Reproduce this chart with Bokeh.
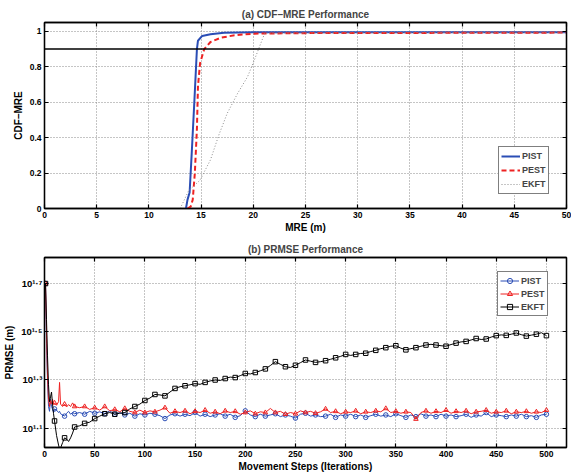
from bokeh.plotting import figure
from bokeh.models import (Range1d, FixedTicker, LinearAxis, LogAxis, Span, Legend,
                          LegendItem)
from bokeh.layouts import column
from bokeh.embed import file_html
from bokeh.resources import INLINE

FONT = "Liberation Sans"
BLUE = "#2a4db5"
RED = "#ee2222"
GRAY = "#8c8c8c"

# ---------------- (a) CDF-MRE data ----------------
pist_cdf_x = [13.55, 13.7, 13.9, 14.1, 14.35, 14.6, 14.7, 15.1, 15.9, 17.2, 20.0, 50.0]
pist_cdf_y = [0.0, 0.05, 0.09, 0.31, 0.6, 0.9, 0.947, 0.974, 0.984, 0.992, 0.995, 0.995]
pest_cdf_x = [13.7, 14.0, 14.2, 14.4, 14.6, 14.7, 14.9, 15.3, 15.9, 16.9, 18.2, 20.1, 25.0, 50.0]
pest_cdf_y = [0.0, 0.01, 0.05, 0.2, 0.45, 0.69, 0.82, 0.9, 0.94, 0.964, 0.978, 0.987, 0.99, 0.993]
ekft_cdf_x = [13.0, 13.4, 13.8, 14.9, 15.9, 16.7, 17.5, 18.5, 19.45, 20.1, 20.7, 21.1, 50.0]
ekft_cdf_y = [0.0, 0.05, 0.1, 0.16, 0.275, 0.415, 0.537, 0.65, 0.744, 0.838, 0.93, 0.99, 0.995]
threshold = 0.9
cdf_xticks = [0, 5, 10, 15, 20, 25, 30, 35, 40, 45, 50]
cdf_yticks = [0, 0.2, 0.4, 0.6, 0.8, 1]
cdf_ylabels = ["0", "0.2", "0.4", "0.6", "0.8", "1"]

# ---------------- (b) PRMSE data (log10 of metres) ----------------
steps = [1, 2, 3, 4, 5, 6, 7, 8, 9, 10, 12, 14, 15, 16, 18, 20, 22, 24, 26, 28, 30,
         35, 40, 45, 50, 55, 60, 65, 70, 75, 80,
         85, 90, 95, 100, 105, 110, 115, 120, 125, 130,
         135, 140, 145, 150, 155, 160, 165, 170, 175, 180,
         185, 190, 195, 200, 205, 210, 215, 220, 225, 230,
         235, 240, 245, 250, 255, 260, 265, 270, 275, 280,
         285, 290, 295, 300, 305, 310, 315, 320, 325, 330,
         335, 340, 345, 350, 355, 360, 365, 370, 375, 380,
         385, 390, 395, 400, 405, 410, 415, 420, 425, 430,
         435, 440, 445, 450, 455, 460, 465, 470, 475, 480,
         485, 490, 495, 500]
pist_log = [1.70, 1.45, 1.30, 1.19, 1.17, 1.22, 1.19, 1.18, 1.165, 1.18, 1.175, 1.165, 1.17, 1.16, 1.155, 1.15, 1.162, 1.17, 1.158, 1.165, 1.16,
            1.165, 1.158, 1.17, 1.162, 1.168, 1.16, 1.172, 1.158, 1.165, 1.155,
            1.162, 1.15, 1.16, 1.155, 1.162, 1.158, 1.152, 1.14, 1.155, 1.16,
            1.15, 1.158, 1.152, 1.165, 1.15, 1.158, 1.148, 1.155, 1.16, 1.15,
            1.158, 1.145, 1.152, 1.172, 1.155, 1.148, 1.158, 1.15, 1.155, 1.16,
            1.148, 1.155, 1.15, 1.142, 1.158, 1.162, 1.15, 1.155, 1.148, 1.15,
            1.158, 1.145, 1.155, 1.15, 1.158, 1.148, 1.155, 1.145, 1.152, 1.158,
            1.15, 1.155, 1.148, 1.16, 1.152, 1.145, 1.155, 1.148, 1.16, 1.15,
            1.155, 1.148, 1.158, 1.15, 1.155, 1.148, 1.152, 1.158, 1.145, 1.155,
            1.15, 1.165, 1.148, 1.155, 1.152, 1.148, 1.155, 1.15, 1.158, 1.148,
            1.152, 1.145, 1.155, 1.158]
pest_log = [1.70, 1.50, 1.32, 1.22, 1.19, 1.215, 1.20, 1.22, 1.20, 1.205, 1.195, 1.21, 1.29, 1.20, 1.19, 1.20, 1.188, 1.198, 1.19, 1.205, 1.19,
            1.185, 1.19, 1.178, 1.185, 1.175, 1.19, 1.172, 1.178, 1.168, 1.182,
            1.17, 1.165, 1.175, 1.165, 1.172, 1.168, 1.175, 1.185, 1.162, 1.17,
            1.165, 1.172, 1.16, 1.17, 1.165, 1.175, 1.162, 1.168, 1.16, 1.172,
            1.165, 1.17, 1.158, 1.165, 1.172, 1.16, 1.168, 1.165, 1.182, 1.165,
            1.17, 1.158, 1.165, 1.16, 1.172, 1.165, 1.17, 1.162, 1.168, 1.18,
            1.165, 1.17, 1.16, 1.168, 1.165, 1.172, 1.16, 1.168, 1.165, 1.172,
            1.168, 1.182, 1.165, 1.17, 1.162, 1.168, 1.165, 1.138, 1.165, 1.172,
            1.162, 1.17, 1.165, 1.175, 1.162, 1.17, 1.165, 1.172, 1.16, 1.168,
            1.17, 1.175, 1.162, 1.168, 1.165, 1.172, 1.16, 1.168, 1.165, 1.17,
            1.162, 1.168, 1.165, 1.175]
ekft_log = [1.70, 1.55, 1.40, 1.28, 1.21, 1.23, 1.25, 1.20, 1.16, 1.13, 1.07, 1.03, 1.015, 1.018, 1.04, 1.06, 1.055, 1.045, 1.06, 1.08, 1.105,
            1.11, 1.12, 1.125, 1.14, 1.15, 1.16, 1.165, 1.158, 1.162, 1.165,
            1.18, 1.19, 1.2, 1.215, 1.225, 1.24, 1.238, 1.234, 1.25, 1.265,
            1.272, 1.276, 1.28, 1.285, 1.282, 1.29, 1.296, 1.30, 1.298, 1.306,
            1.312, 1.31, 1.318, 1.327, 1.325, 1.331, 1.338, 1.346, 1.36, 1.376,
            1.365, 1.355, 1.352, 1.361, 1.372, 1.383, 1.378, 1.373, 1.376, 1.38,
            1.386, 1.392, 1.398, 1.406, 1.402, 1.406, 1.41, 1.411, 1.418, 1.423,
            1.43, 1.434, 1.44, 1.442, 1.432, 1.425, 1.43, 1.434, 1.44, 1.445,
            1.448, 1.445, 1.442, 1.44, 1.447, 1.453, 1.458, 1.46, 1.466, 1.472,
            1.468, 1.47, 1.478, 1.484, 1.487, 1.485, 1.49, 1.495, 1.488, 1.482,
            1.486, 1.49, 1.496, 1.484]
prmse_xticks = [0, 50, 100, 150, 200, 250, 300, 350, 400, 450, 500]
prmse_ytick_exps = [1.1, 1.3, 1.5, 1.7]
prmse_ytick_labels = ["10\u00b9\u00b7\u00b9", "10\u00b9\u00b7\u00b3", "10\u00b9\u00b7\u2075", "10\u00b9\u00b7\u2077"]


def style_axis(ax):
    ax.major_tick_in = 4
    ax.major_tick_out = 0
    ax.minor_tick_line_color = None
    ax.axis_line_color = "black"
    ax.axis_line_width = 1.3
    ax.major_tick_line_color = "black"
    ax.major_tick_line_width = 1.2
    ax.major_label_text_font = FONT
    ax.major_label_text_font_style = "bold"
    ax.major_label_text_font_size = "8.5px"
    ax.major_label_text_color = "black"
    ax.axis_label_text_font = FONT
    ax.axis_label_text_font_style = "bold"
    ax.axis_label_text_font_size = "10px"
    ax.axis_label_text_color = "black"


def mute_axis(ax):
    style_axis(ax)
    ax.major_label_text_color = None
    ax.major_label_text_font_size = "1px"
    ax.major_label_standoff = 0
    ax.axis_label = None


def style_fig(p):
    for g in (p.xgrid[0], p.ygrid[0]):
        g.grid_line_color = "#8a8a8a"
        g.grid_line_dash = "1 2"
        g.grid_line_width = 1
    p.outline_line_color = "black"
    p.outline_line_width = 1.3
    p.title.text_font = FONT
    p.title.text_font_style = "bold"
    p.title.text_font_size = "10px"
    p.title.align = "center"


def make_legend(items, loc, lh):
    return Legend(items=items, location=loc, margin=0, padding=2, spacing=0,
                  label_height=lh, glyph_height=lh, glyph_width=19, label_standoff=2,
                  label_text_font=FONT, label_text_font_style="bold", label_text_font_size="9px",
                  border_line_color="black", border_line_width=1.2,
                  background_fill_color="white", background_fill_alpha=1)


# ---------------- figure (a) ----------------
p1 = figure(width=571, height=236, x_range=Range1d(0, 50), y_range=Range1d(0, 1.05),
            output_backend="svg", toolbar_location=None,
            title="(a) CDF\u2013MRE Performance",
            min_border_left=44, min_border_right=5, min_border_top=22, min_border_bottom=28)
style_fig(p1)
bx1 = p1.below[0]
ly1 = p1.left[0]
for ax in (bx1, ly1):
    style_axis(ax)
bx1.ticker = FixedTicker(ticks=cdf_xticks)
ly1.ticker = FixedTicker(ticks=cdf_yticks)
ly1.major_label_overrides = {t: s for t, s in zip(cdf_yticks, cdf_ylabels)}
bx1.axis_label = "MRE (m)"
ly1.axis_label = "CDF\u2013MRE"
bx1.major_label_standoff = 3
bx1.axis_label_standoff = 1
ly1.major_label_standoff = 3
ly1.axis_label_standoff = 3
ax_r1 = LinearAxis(ticker=FixedTicker(ticks=cdf_yticks))
ax_t1 = LinearAxis(ticker=FixedTicker(ticks=cdf_xticks))
mute_axis(ax_r1)
mute_axis(ax_t1)
p1.add_layout(ax_r1, "right")
p1.add_layout(ax_t1, "above")
p1.title.standoff = 5

p1.add_layout(Span(location=threshold, dimension="width", line_color="black", line_width=1.5))
r_a1 = p1.line(pist_cdf_x, pist_cdf_y, line_color=BLUE, line_width=2)
r_a2 = p1.line(pest_cdf_x, pest_cdf_y, line_color=RED, line_width=2, line_dash="5 3")
r_a3 = p1.line(ekft_cdf_x, ekft_cdf_y, line_color=GRAY, line_width=1, line_dash="1 2")

leg1 = make_legend([LegendItem(label="PIST", renderers=[r_a1]),
                    LegendItem(label="PEST", renderers=[r_a2]),
                    LegendItem(label="EKFT", renderers=[r_a3])], (454, 14), 14)
p1.add_layout(leg1)

# ---------------- figure (b) ----------------
y_lo, y_hi = 10 ** 1.02, 10 ** 1.808
p2 = figure(width=571, height=238, x_range=Range1d(0, 520), y_range=Range1d(y_lo, y_hi),
            y_axis_type="log", output_backend="svg", toolbar_location=None,
            title="(b) PRMSE Performance",
            min_border_left=44, min_border_right=5, min_border_top=21, min_border_bottom=27)
style_fig(p2)
bx2 = p2.below[0]
ly2 = p2.left[0]
for ax in (bx2, ly2):
    style_axis(ax)
yt = [10 ** e for e in prmse_ytick_exps]
bx2.ticker = FixedTicker(ticks=prmse_xticks)
ly2.ticker = FixedTicker(ticks=yt)
ly2.major_label_overrides = {t: s for t, s in zip(yt, prmse_ytick_labels)}
ly2.major_label_text_font_size = "9.5px"
bx2.axis_label = "Movement Steps (Iterations)"
ly2.axis_label = "PRMSE (m)"
bx2.major_label_standoff = 3
bx2.axis_label_standoff = 1
ly2.major_label_standoff = 2
ly2.axis_label_standoff = 3
ax_r2 = LogAxis(ticker=FixedTicker(ticks=yt))
ax_t2 = LinearAxis(ticker=FixedTicker(ticks=prmse_xticks))
mute_axis(ax_r2)
mute_axis(ax_t2)
p2.add_layout(ax_r2, "right")
p2.add_layout(ax_t2, "above")
p2.title.standoff = 5

pist_v = [10 ** v for v in pist_log]
pest_v = [10 ** v for v in pest_log]
ekft_v = [10 ** v for v in ekft_log]
mk = [i for i, s in enumerate(steps) if s == 1 or s % 10 == 0]

series = [("PIST", pist_v, BLUE, "circle"), ("PEST", pest_v, RED, "triangle"),
          ("EKFT", ekft_v, "black", "square")]
items2 = []
for name, vals, col, marker in series:
    rl = p2.line(steps, vals, line_color=col, line_width=1)
    rs = p2.scatter([steps[i] for i in mk], [vals[i] for i in mk], marker=marker, size=4.5,
                    line_color=col, fill_color=None, line_width=1)
    items2.append(LegendItem(label=name, renderers=[rl, rs]))

leg2 = make_legend(items2, (453, 131), 13)
p2.add_layout(leg2)

layout = column(p1, p2, spacing=0)
open("out.html", "w").write(file_html(layout, INLINE))
